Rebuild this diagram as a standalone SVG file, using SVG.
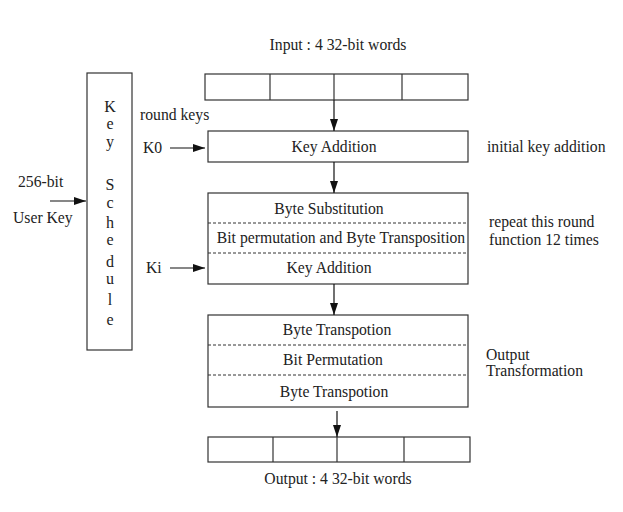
<svg xmlns="http://www.w3.org/2000/svg" width="623" height="512" viewBox="0 0 623 512">
<defs>
<marker id="ah" markerWidth="12" markerHeight="8" refX="12" refY="4" orient="auto" markerUnits="userSpaceOnUse">
<path d="M0,0 L12,4 L0,8 Z" fill="#111"/>
</marker>
<style>
.b{fill:#fff;stroke:#333;stroke-width:1.2}
.d{stroke:#333;stroke-width:1;stroke-dasharray:3,2;fill:none}
.l{stroke:#333;stroke-width:1.2;fill:none}
.c{stroke:#111;stroke-width:1.2;fill:none;marker-end:url(#ah)}
text{font-family:"Liberation Serif","Times New Roman",serif;font-size:15.7px;fill:#222}
.m{text-anchor:middle}
.k{font-size:16px;text-anchor:middle}
</style>
</defs>
<rect width="623" height="512" fill="#fff"/>
<g id="input">
<rect class="b" x="205" y="74" width="263" height="26"/>
<line class="l" x1="270" y1="74" x2="270" y2="100"/>
<line class="l" x1="334" y1="74" x2="334" y2="100"/>
<line class="l" x1="402" y1="74" x2="402" y2="100"/>
<text class="m" x="338" y="50">Input : 4 32-bit words</text>
</g>
<g id="keyschedule">
<rect class="b" x="87" y="73" width="45" height="277"/>
<text class="k" x="110" y="112">K</text>
<text class="k" x="110" y="129">e</text>
<text class="k" x="110" y="147">y</text>
<text class="k" x="110" y="190">S</text>
<text class="k" x="110" y="208">c</text>
<text class="k" x="110" y="228">h</text>
<text class="k" x="110" y="245">e</text>
<text class="k" x="110" y="267">d</text>
<text class="k" x="110" y="284">u</text>
<text class="k" x="110" y="305">l</text>
<text class="k" x="110" y="325">e</text>
</g>
<g id="keyaddition0">
<rect class="b" x="208" y="131" width="260" height="31"/>
<text class="m" x="334" y="152">Key Addition</text>
</g>
<g id="round">
<rect class="b" x="208" y="193" width="260" height="91"/>
<line class="d" x1="208" y1="223" x2="468" y2="223"/>
<line class="d" x1="208" y1="253" x2="468" y2="253"/>
<text class="m" x="329" y="214">Byte Substitution</text>
<text class="m" x="341" y="243">Bit permutation and Byte Transposition</text>
<text class="m" x="329" y="273">Key Addition</text>
</g>
<g id="outtransform">
<rect class="b" x="208" y="315" width="260" height="92"/>
<line class="d" x1="208" y1="345" x2="468" y2="345"/>
<line class="d" x1="208" y1="375" x2="468" y2="375"/>
<text class="m" x="337" y="335">Byte Transpotion</text>
<text class="m" x="333" y="365">Bit Permutation</text>
<text class="m" x="334" y="397">Byte Transpotion</text>
</g>
<g id="output">
<rect class="b" x="208" y="437" width="262" height="25"/>
<line class="l" x1="273" y1="437" x2="273" y2="462"/>
<line class="l" x1="337" y1="437" x2="337" y2="462"/>
<line class="l" x1="404" y1="437" x2="404" y2="462"/>
<text class="m" x="338" y="484">Output : 4 32-bit words</text>
</g>
<g id="labels">
<text x="140" y="120">round keys</text>
<text x="143" y="153">K0</text>
<text x="146" y="273">Ki</text>
<text x="18" y="187">256-bit</text>
<text x="13" y="223">User Key</text>
<text x="487" y="152">initial key addition</text>
<text x="489" y="227">repeat this round</text>
<text x="489" y="245">function 12 times</text>
<text x="486" y="360">Output</text>
<text x="486" y="376">Transformation</text>
</g>
<g id="connectors">
<line class="c" x1="334" y1="100" x2="334" y2="131"/>
<line class="c" x1="334" y1="162" x2="334" y2="193"/>
<line class="c" x1="334" y1="284" x2="334" y2="315"/>
<line class="c" x1="337" y1="411" x2="337" y2="437"/>
<line class="c" x1="170" y1="148" x2="205" y2="148"/>
<line class="c" x1="170" y1="268" x2="205" y2="268"/>
<line class="c" x1="50" y1="201" x2="86" y2="201"/>
</g>
</svg>
